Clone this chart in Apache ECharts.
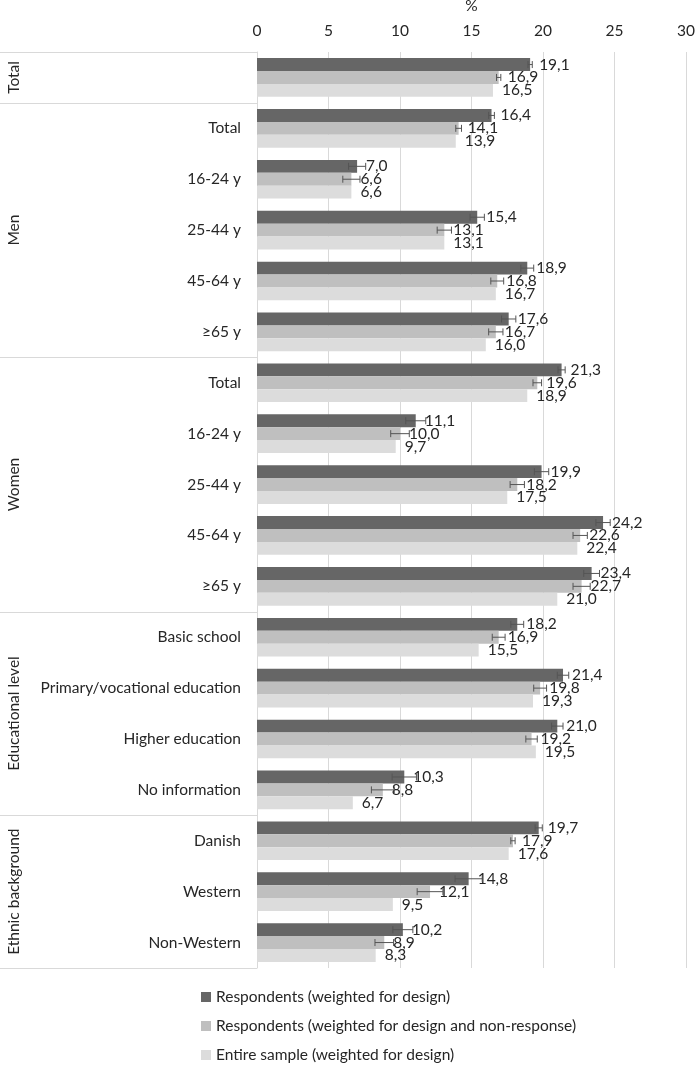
<!DOCTYPE html>
<html><head><meta charset="utf-8">
<script src="https://cdn.jsdelivr.net/npm/echarts@6/dist/echarts.min.js"></script>
<style>html,body{margin:0;padding:0;background:#fff}#c{width:696px;height:1065px}</style>
</head><body><div id="c"></div>
<script>
const groupNames = ['Total', 'Men', 'Women', 'Educational level', 'Ethnic background'];
const groupSizes = [1, 5, 5, 4, 3];
const categoryLabels = ['', 'Total', '16-24 y', '25-44 y', '45-64 y', '≥65 y',
  'Total', '16-24 y', '25-44 y', '45-64 y', '≥65 y',
  'Basic school', 'Primary/vocational education', 'Higher education', 'No information',
  'Danish', 'Western', 'Non-Western'];
const seriesNames = ['Respondents (weighted for design)',
  'Respondents (weighted for design and non-response)',
  'Entire sample (weighted for design)'];
const respDesign   = [19.1, 16.4, 7.0, 15.4, 18.9, 17.6, 21.3, 11.1, 19.9, 24.2, 23.4, 18.2, 21.4, 21.0, 10.3, 19.7, 14.8, 10.2];
const respNonresp  = [16.9, 14.1, 6.6, 13.1, 16.8, 16.7, 19.6, 10.0, 18.2, 22.6, 22.7, 16.9, 19.8, 19.2, 8.8, 17.9, 12.1, 8.9];
const entireSample = [16.5, 13.9, 6.6, 13.1, 16.7, 16.0, 18.9, 9.7, 17.5, 22.4, 21.0, 15.5, 19.3, 19.5, 6.7, 17.6, 9.5, 8.3];
const respDesignErr  = [0.15, 0.2, 0.6, 0.5, 0.45, 0.5, 0.25, 0.7, 0.5, 0.5, 0.55, 0.45, 0.4, 0.4, 0.85, 0.25, 0.95, 0.7];
const respNonrespErr = [0.15, 0.2, 0.6, 0.5, 0.45, 0.5, 0.3, 0.65, 0.5, 0.5, 0.6, 0.45, 0.45, 0.4, 0.8, 0.15, 0.9, 0.65];
const xMin = 0, xMax = 30, xStep = 5;

const FONT = 'Lato';
const TXT = '#262626';
const GRID_C = '#d9d9d9';
const colors = ['#666666', '#bfbfbf', '#dcdcdc'];
const CAT_GAP = 0.24;

const catKeys = categoryLabels.map((l, i) => i + '|' + l);
const fmt = v => (typeof v === 'number' ? v : v.value).toFixed(1).replace('.', ',');

function barSeries(name, data, color) {
  return {
    name, type: 'bar', data, barGap: 0, barCategoryGap: (CAT_GAP * 100) + '%',
    itemStyle: { color }, z: 2,
    label: { show: true, position: 'right', distance: 9, color: TXT, fontFamily: FONT, fontSize: 15.5,
      formatter: p => fmt(p.value) }
  };
}

const errData = [];
[respDesignErr, respNonrespErr].forEach((errs, s) => {
  const vals = s === 0 ? respDesign : respNonresp;
  errs.forEach((e, i) => errData.push([i, vals[i] - e, vals[i] + e, s]));
});

const chart = echarts.init(document.getElementById('c'), null, { renderer: 'canvas' });
chart.setOption({
  animation: false,
  textStyle: { fontFamily: FONT },
  grid: { left: 257, right: 10, top: 52, bottom: 97, containLabel: false, outerBoundsMode: 'none' },
  xAxis: {
    type: 'value', position: 'top', min: xMin, max: xMax, interval: xStep,
    name: '%', nameLocation: 'middle', nameGap: 38,
    nameTextStyle: { color: TXT, fontSize: 15.5, fontFamily: FONT },
    axisLine: { show: false }, axisTick: { show: false },
    axisLabel: { color: TXT, fontSize: 15.5, fontFamily: FONT, margin: 13 },
    splitLine: { show: true, lineStyle: { color: GRID_C, width: 1 } }
  },
  yAxis: {
    type: 'category', inverse: true, data: catKeys,
    axisLine: { show: true, lineStyle: { color: GRID_C } },
    axisTick: { show: false },
    axisLabel: { color: TXT, fontSize: 15.5, fontFamily: FONT, margin: 16,
      formatter: v => v.split('|')[1] }
  },
  legend: {
    orient: 'vertical', left: 196, top: 984, height: 80, itemWidth: 10, itemHeight: 10, itemGap: 13,
    icon: 'rect', data: seriesNames,
    textStyle: { color: TXT, fontSize: 15.5, fontFamily: FONT }
  },
  series: [
    barSeries(seriesNames[0], respDesign, colors[0]),
    barSeries(seriesNames[1], respNonresp, colors[1]),
    barSeries(seriesNames[2], entireSample, colors[2]),
    {
      type: 'custom', z: 5, data: errData, encode: { x: [1, 2], y: 0 },
      renderItem: (params, api) => {
        const i = api.value(0), lo = api.value(1), hi = api.value(2), s = api.value(3);
        const band = api.size([0, 1])[1];
        const bw = band * (1 - CAT_GAP) / 3;
        const yc = api.coord([0, i])[1] + (s - 1) * bw;
        const x1 = api.coord([lo, i])[0], x2 = api.coord([hi, i])[0];
        const h = 3.5;
        const st = { stroke: '#555555', lineWidth: 1, fill: null };
        return { type: 'group', children: [
          { type: 'line', shape: { x1, y1: yc, x2, y2: yc }, style: st },
          { type: 'line', shape: { x1, y1: yc - h, x2: x1, y2: yc + h }, style: st },
          { type: 'line', shape: { x1: x2, y1: yc - h, x2, y2: yc + h }, style: st }
        ] };
      }
    }
  ]
});

function drawGroups() {
  const n = catKeys.length;
  const y0 = chart.convertToPixel({ yAxisIndex: 0 }, 0);
  const yN = chart.convertToPixel({ yAxisIndex: 0 }, n - 1);
  const band = (yN - y0) / (n - 1);
  const xAxisPx = chart.convertToPixel({ xAxisIndex: 0 }, 0);
  const els = [];
  let start = 0;
  const lineAt = y => els.push({ type: 'line', shape: { x1: 0, y1: y, x2: xAxisPx, y2: y },
    style: { stroke: GRID_C, lineWidth: 1 }, z: 1 });
  lineAt(Math.round(y0 - band / 2) + 0.5);
  groupSizes.forEach((sz, g) => {
    const top = y0 + (start - 0.5) * band;
    const bot = y0 + (start + sz - 0.5) * band;
    lineAt(Math.round(bot) + 0.5);
    els.push({ type: 'text', x: 14, y: (top + bot) / 2, rotation: Math.PI / 2,
      style: { text: groupNames[g], fill: TXT, font: '15.5px ' + FONT, align: 'center', verticalAlign: 'middle' } });
    start += sz;
  });
  chart.setOption({ graphic: els });
}
drawGroups();
</script></body></html>
